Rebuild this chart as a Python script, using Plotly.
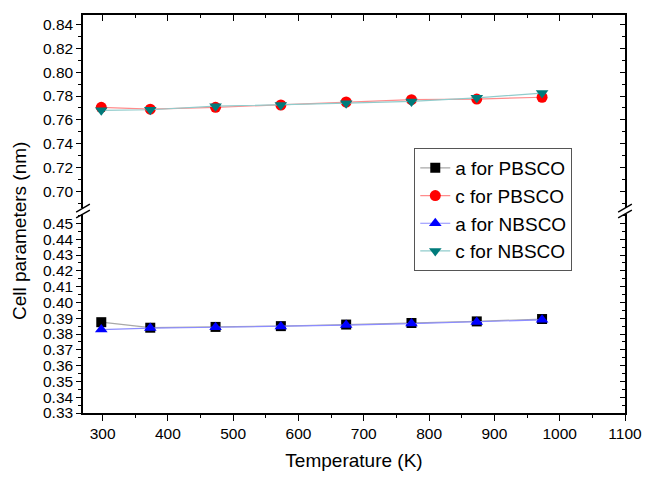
import plotly.graph_objects as go

# ---- data ----
temperature = [298, 373, 473, 573, 673, 773, 873, 973]
a_PBSCO = [0.3875, 0.3840, 0.3845, 0.3850, 0.3860, 0.3870, 0.3880, 0.3895]
c_PBSCO = [0.7705, 0.7690, 0.7705, 0.7725, 0.7750, 0.7770, 0.7775, 0.7790]
a_NBSCO = [0.3828, 0.3838, 0.3843, 0.3848, 0.3857, 0.3866, 0.3876, 0.3890]
c_NBSCO = [0.7680, 0.7685, 0.7715, 0.7725, 0.7740, 0.7755, 0.7785, 0.7825]

x_range = [270, 1100]
upper_range = [0.686, 0.848]
lower_range = [0.33, 0.456]

font_family = "Liberation Sans, Arial, sans-serif"

# layout geometry (pixels)
W, H = 654, 480
L, R, T, B = 83, 18, 15, 61
pw = W - L - R
ph = H - T - B
upper_bottom_px = 211   # y pixel where upper segment ends
lower_top_px = 217      # y pixel where lower segment starts

def py(p):
    return (H - B - p) / ph

def px(p):
    return (p - L) / pw

upper_dom = [py(upper_bottom_px), 1]
lower_dom = [0, py(lower_top_px)]

fig = go.Figure()

fig.add_trace(go.Scatter(
    x=temperature, y=a_PBSCO, name="a for PBSCO", mode="lines+markers",
    line=dict(color="#a8a8a8", width=1.2),
    marker=dict(symbol="square", size=10, color="#000000"),
    xaxis="x", yaxis="y"))
fig.add_trace(go.Scatter(
    x=temperature, y=c_PBSCO, name="c for PBSCO", mode="lines+markers",
    line=dict(color="#ff8c8c", width=1.2),
    marker=dict(symbol="circle", size=11, color="#ff0000"),
    xaxis="x2", yaxis="y2"))
fig.add_trace(go.Scatter(
    x=temperature, y=a_NBSCO, name="a for NBSCO", mode="lines+markers",
    line=dict(color="#8c8cff", width=1.2),
    marker=dict(symbol="triangle-up", size=11, color="#0000ff"),
    xaxis="x", yaxis="y"))
fig.add_trace(go.Scatter(
    x=temperature, y=c_NBSCO, name="c for NBSCO", mode="lines+markers",
    line=dict(color="#90cccc", width=1.2),
    marker=dict(symbol="triangle-down", size=11, color="#007b7b"),
    xaxis="x2", yaxis="y2"))

# dummy traces so the mirrored right axes are drawn
fig.add_trace(go.Scatter(x=[None], y=[None], xaxis="x", yaxis="y3",
                         showlegend=False, hoverinfo="skip"))
fig.add_trace(go.Scatter(x=[None], y=[None], xaxis="x2", yaxis="y4",
                         showlegend=False, hoverinfo="skip"))

axis_common = dict(showgrid=False, zeroline=False, showline=True,
                   linecolor="#000000", linewidth=1.5,
                   tickcolor="#000000", tickwidth=1.3,
                   tickfont=dict(family=font_family, size=15.5, color="#000000"))

fig.update_layout(
    width=W, height=H,
    margin=dict(l=L, r=R, t=T, b=B),
    paper_bgcolor="white", plot_bgcolor="white",
    font=dict(family=font_family, color="#000000"),
    xaxis=dict(**axis_common, range=x_range, anchor="y", side="bottom",
               tick0=300, dtick=100, ticks="outside", ticklen=6,
               minor=dict(dtick=50, ticklen=3, tickcolor="#000000", ticks="outside"),
               title=dict(text="Temperature (K)",
                          font=dict(family=font_family, size=19), standoff=12)),
    xaxis2=dict(**axis_common, range=x_range, anchor="y2", side="top",
                tick0=300, dtick=100, ticks="inside", ticklen=6,
                showticklabels=False,
                minor=dict(dtick=50, ticklen=3, tickcolor="#000000", ticks="inside")),
    yaxis=dict(**axis_common, range=lower_range, domain=lower_dom, anchor="x",
               tick0=0.33, dtick=0.01, tickformat=".2f", ticks="outside", ticklen=5,
               minor=dict(dtick=0.005, ticklen=3, tickcolor="#000000", ticks="outside")),
    yaxis2=dict(**axis_common, range=upper_range, domain=upper_dom, anchor="x2",
                tick0=0.70, dtick=0.02, tickformat=".2f", ticks="outside", ticklen=5,
                minor=dict(dtick=0.01, ticklen=3, tickcolor="#000000", ticks="outside")),
    yaxis3=dict(**axis_common, range=lower_range, domain=lower_dom, anchor="x",
                overlaying="y", side="right", showticklabels=False,
                tick0=0.33, dtick=0.01, ticks="inside", ticklen=5,
                minor=dict(dtick=0.005, ticklen=3, tickcolor="#000000", ticks="inside")),
    yaxis4=dict(**axis_common, range=upper_range, domain=upper_dom, anchor="x2",
                overlaying="y2", side="right", showticklabels=False,
                tick0=0.70, dtick=0.02, ticks="inside", ticklen=5,
                minor=dict(dtick=0.01, ticklen=3, tickcolor="#000000", ticks="inside")),
    legend=dict(x=px(421), y=py(150), xanchor="left", yanchor="top",
                bgcolor="white", bordercolor="#555555", borderwidth=1,
                font=dict(family=font_family, size=19, color="#000000"),
                tracegroupgap=0),
    showlegend=True,
)

# y-axis title spanning both segments
fig.add_annotation(text="Cell parameters (nm)", textangle=-90,
                   xref="paper", yref="paper", x=px(18), y=py(234),
                   xanchor="center", yanchor="middle", showarrow=False,
                   font=dict(family=font_family, size=19, color="#000000"))

# axis-break marks on left and right
for xc in (L, W - R):
    for dy in (-3, 3):
        fig.add_shape(type="line", xref="paper", yref="paper",
                      x0=px(xc - 7), y0=py(214 + dy + 4),
                      x1=px(xc + 7), y1=py(214 + dy - 4),
                      line=dict(color="#000000", width=1.4))

page_fix = (
    "document.documentElement.style.margin='0';"
    "document.documentElement.style.padding='0';"
    "document.documentElement.style.height='480px';"
    "document.documentElement.style.overflow='hidden';"
    "document.body.style.margin='0';"
    "document.body.style.padding='0';"
    "document.body.style.height='480px';"
    "document.body.style.overflow='hidden';"
    "var gd=document.getElementById('{plot_id}');"
    "gd.style.display='block';"
    "if(gd.parentElement){gd.parentElement.style.height='480px';"
    "gd.parentElement.style.overflow='hidden';}"
)

fig.write_html("out.html", config={"displayModeBar": False},
               post_script=page_fix)
